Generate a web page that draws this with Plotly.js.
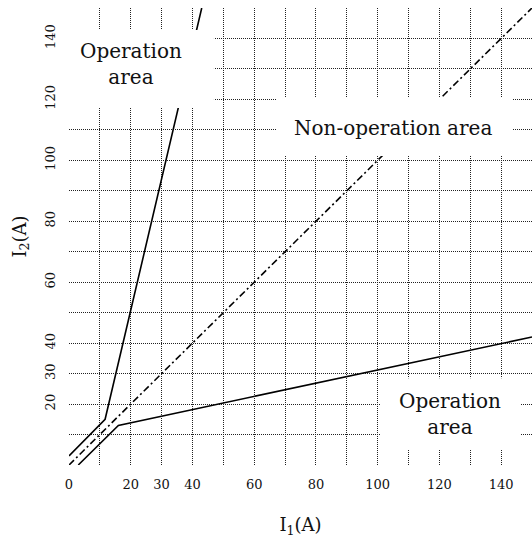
<!DOCTYPE html>
<html>
<head>
<meta charset="utf-8">
<script src="https://cdn.plot.ly/plotly-3.0.1.min.js"></script>
<style>html,body{margin:0;padding:0;background:#fff;}#chart{width:532px;height:540px;}</style>
</head>
<body>
<div id="chart"></div>
<script>
// Characteristic lines (I1 in A, I2 in A)
const upperX = [0, 11.7, 43];
const upperY = [3, 15, 150];
const lowerX = [3, 16, 150];
const lowerY = [0, 13, 42];
const diagX = [0, 150];
const diagY = [0, 150];

// Ticks (grid every 10 A, labels only on some)
const gridVals = [0, 10, 20, 30, 40, 50, 60, 70, 80, 90, 100, 110, 120, 130, 140, 150];
const xTickText = ['0', '', '20', '30', '40', '', '60', '', '80', '', '100', '', '120', '', '140', ''];
const yTickText = ['', '', '20', '30', '40', '', '60', '', '80', '', '100', '', '120', '', '140', ''];

// Region labels
const regionText = ['Operation<br>area', 'Non-operation area', 'Operation<br>area'];
const regionX = [20, 105.1, 123.3];
const regionY = [131.5, 110.6, 16.9];

const FONT = 'DejaVu Serif, serif';

const traces = [
  {x: diagX, y: diagY, mode: 'lines', line: {color: '#000', width: 1.6, dash: '7px,3px,2px,3px'}, hoverinfo: 'skip'},
  {x: upperX, y: upperY, mode: 'lines', line: {color: '#000', width: 1.6}, hoverinfo: 'skip'},
  {x: lowerX, y: lowerY, mode: 'lines', line: {color: '#000', width: 1.6}, hoverinfo: 'skip'}
];

const boxStyle = {type: 'rect', xref: 'paper', yref: 'paper', layer: 'above', fillcolor: '#fff', line: {width: 0}};

const layout = {
  width: 532, height: 540,
  margin: {l: 69, r: 0, t: 8, b: 75},
  paper_bgcolor: '#fff', plot_bgcolor: '#fff',
  showlegend: false,
  font: {family: FONT, color: '#111'},
  xaxis: {
    range: [0, 150], tickmode: 'array', tickvals: gridVals, ticktext: xTickText,
    showgrid: true, gridcolor: '#222', gridwidth: 1, griddash: '1px,1px',
    zeroline: false, showline: false, ticks: '',
    ticklabelstandoff: 10,
    tickfont: {family: FONT, size: 13, color: '#111'},
    title: {text: 'I<sub>1</sub>(A)', font: {family: FONT, size: 18, color: '#111'}, standoff: 27},
    fixedrange: true
  },
  yaxis: {
    range: [0, 150], tickmode: 'array', tickvals: gridVals, ticktext: yTickText,
    showgrid: true, gridcolor: '#222', gridwidth: 1, griddash: '1px,1px',
    zeroline: false, showline: false, ticks: '', tickangle: -90,
    ticklabelstandoff: 10,
    tickfont: {family: FONT, size: 13, color: '#111'},
    title: {text: 'I<sub>2</sub>(A)', font: {family: FONT, size: 18, color: '#111'}, standoff: 12},
    fixedrange: true
  },
  shapes: [
    Object.assign({x0: -0.015, x1: 0.313, y0: 0.781, y1: 0.952}, boxStyle),
    Object.assign({x0: 0.449, x1: 0.957, y0: 0.676, y1: 0.805}, boxStyle),
    Object.assign({x0: 0.672, x1: 0.976, y0: 0.035, y1: 0.190}, boxStyle)
  ],
  annotations: regionText.map((t, i) => ({
    x: regionX[i], y: regionY[i], xref: 'x', yref: 'y', text: t, showarrow: false,
    xanchor: 'center', yanchor: 'middle', align: 'center',
    font: {family: FONT, size: 20, color: '#111'}
  }))
};

Plotly.newPlot('chart', traces, layout, {displayModeBar: false, staticPlot: true});
</script>
</body>
</html>
